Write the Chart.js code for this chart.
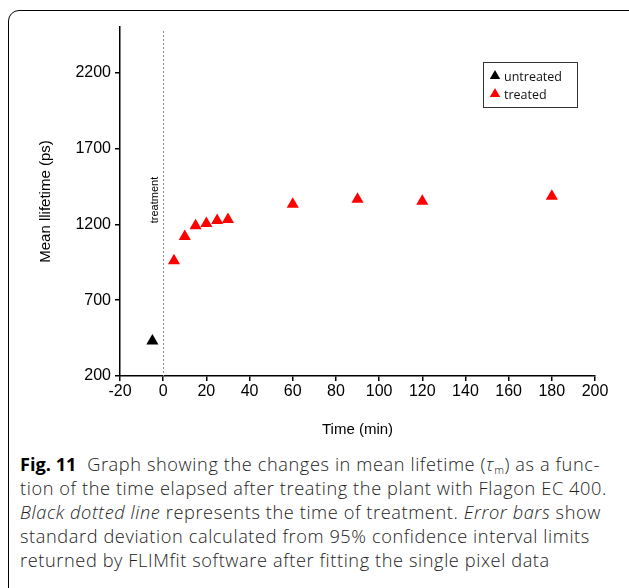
<!DOCTYPE html>
<html>
<head>
<meta charset="utf-8">
<script src="https://cdn.jsdelivr.net/npm/chart.js@4/dist/chart.umd.min.js"></script>
<style>
  html, body { margin: 0; padding: 0; background: #fff; }
  .page { position: relative; width: 629px; height: 588px; overflow: hidden; }
  .frame {
    position: absolute; left: 8px; top: 10px; width: 640px; height: 600px;
    border: 1px solid #000; border-radius: 11px; box-sizing: border-box;
  }
  .chart-wrap { position: absolute; left: 0; top: 0; width: 629px; height: 450px; }
  .caption {
    position: absolute; left: 20px; top: 452px;
    font-family: "Open Sans", "Noto Sans", sans-serif; font-size: 18.2px; font-weight: 300;
    line-height: 24px; color: #222; white-space: nowrap; letter-spacing: 0.6px;
  }
  .caption b { font-weight: 700; color: #000; letter-spacing: 0; }
  .caption sub { font-size: 11px; line-height: 0; vertical-align: -3px; }
</style>
</head>
<body>
<div class="page">
  <div class="frame"></div>
  <div class="chart-wrap"><canvas id="lifetimeChart" width="629" height="450"></canvas></div>
  <div class="caption">
    <b>Fig. 11</b>&nbsp; Graph showing the changes in mean lifetime (<i>τ</i><sub>m</sub>) as a func-<br>
    tion of the time elapsed after treating the plant with Flagon EC 400.<br>
    <i>Black dotted line</i> represents the time of treatment. <i>Error bars</i> show<br>
    standard deviation calculated from 95% confidence interval limits<br>
    returned by FLIMfit software after fitting the single pixel data
  </div>
</div>
<script>
// time after treatment (min) and mean lifetime (ps)
const untreatedTime = [-5];
const untreatedLifetime = [430];
const treatedTime = [5, 10, 15, 20, 25, 30, 60, 90, 120, 180];
const treatedLifetime = [960, 1120, 1190, 1205, 1225, 1232, 1332, 1365, 1352, 1385];

const xTicks = [-20, 0, 20, 40, 60, 80, 100, 120, 140, 160, 180, 200];
const yTicks = [200, 700, 1200, 1700, 2200];
const treatmentTime = 0;

const toPoints = (xs, ys) => xs.map((x, i) => ({ x: x, y: ys[i] }));

// dotted line at the treatment time + its rotated label
const treatmentLine = {
  id: "treatmentLine",
  beforeDatasetsDraw(chart) {
    const { ctx, chartArea, scales } = chart;
    const x = Math.round(scales.x.getPixelForValue(treatmentTime)) + 0.5;
    ctx.save();
    ctx.strokeStyle = "#8a8a8a";
    ctx.lineWidth = 1;
    ctx.setLineDash([2, 2]);
    ctx.beginPath();
    ctx.moveTo(x, chartArea.top + 4);
    ctx.lineTo(x, chartArea.bottom);
    ctx.stroke();
    ctx.setLineDash([]);
    ctx.translate(x - 9, chartArea.top + 173);
    ctx.rotate(-Math.PI / 2);
    ctx.fillStyle = "#000";
    ctx.font = "11px 'Liberation Sans', Arial, sans-serif";
    ctx.textAlign = "center";
    ctx.textBaseline = "middle";
    ctx.fillText("treatment", 0, 0);
    ctx.restore();
  }
};

// boxed legend in the upper right of the plot
const boxLegend = {
  id: "boxLegend",
  afterDraw(chart) {
    const { ctx, chartArea } = chart;
    const left = chartArea.right - 112, top = chartArea.top + 35;
    ctx.save();
    ctx.strokeStyle = "#333";
    ctx.lineWidth = 1;
    ctx.strokeRect(left + 0.5, top + 0.5, 94, 45);
    chart.data.datasets.forEach((ds, i) => {
      const y = top + 14 + i * 18;
      ctx.fillStyle = ds.backgroundColor;
      ctx.strokeStyle = ds.backgroundColor;
      ctx.lineWidth = 0.01;
      Chart.helpers.drawPoint(ctx, { pointStyle: "triangle", radius: 6, borderWidth: 0.01 }, left + 12, y);
      ctx.fillStyle = "#111";
      ctx.font = "12.5px 'Open Sans', 'Noto Sans', sans-serif";
      ctx.textBaseline = "middle";
      ctx.textAlign = "left";
      ctx.fillText(ds.label, left + 21, y + 1);
    });
    ctx.restore();
  }
};

const tickFont = { family: "Liberation Sans, Arial, Helvetica, sans-serif", size: 16 };
const titleFont = { family: "Liberation Sans, Arial, Helvetica, sans-serif", size: 15 };

new Chart(document.getElementById("lifetimeChart"), {
  type: "scatter",
  data: {
    datasets: [
      {
        label: "untreated",
        data: toPoints(untreatedTime, untreatedLifetime),
        backgroundColor: "#000000",
        borderWidth: 0,
        pointStyle: "triangle",
        pointRadius: 7,
      },
      {
        label: "treated",
        data: toPoints(treatedTime, treatedLifetime),
        backgroundColor: "#ff0000",
        borderWidth: 0,
        pointStyle: "triangle",
        pointRadius: 7,
      },
    ],
  },
  options: {
    responsive: false,
    animation: false,
    layout: { padding: { left: 10, right: 34, top: 27, bottom: 4 } },
    plugins: {
      legend: { display: false },
      tooltip: { enabled: false },
    },
    scales: {
      x: {
        type: "linear",
        min: -20,
        max: 200,
        afterBuildTicks: (scale) => { scale.ticks = xTicks.map(v => ({ value: v })); },
        afterFit: (scale) => { scale.height = 70; },
        border: { color: "#000", width: 1.5 },
        grid: { drawOnChartArea: false, color: "#000", tickLength: 5, lineWidth: 1.5 },
        ticks: { color: "#000", font: tickFont, padding: 1, maxRotation: 0, callback: (v) => String(v) },
        title: {
          display: true, text: "Time (min)", color: "#000",
          font: titleFont, padding: { top: 0, bottom: 7 },
        },
      },
      y: {
        type: "linear",
        min: 200,
        max: 2500,
        afterBuildTicks: (scale) => { scale.ticks = yTicks.map(v => ({ value: v })); },
        afterFit: (scale) => { scale.width = 110; },
        border: { color: "#000", width: 1.5 },
        grid: { drawOnChartArea: false, color: "#000", tickLength: 5, lineWidth: 1.5 },
        ticks: { color: "#000", font: tickFont, padding: 4, callback: (v) => String(v) },
        title: {
          display: true, text: "Mean llifetime (ps)", color: "#000",
          font: titleFont, padding: { top: 27, bottom: 0 },
        },
      },
    },
  },
  plugins: [treatmentLine, boxLegend],
});
</script>
</body>
</html>
